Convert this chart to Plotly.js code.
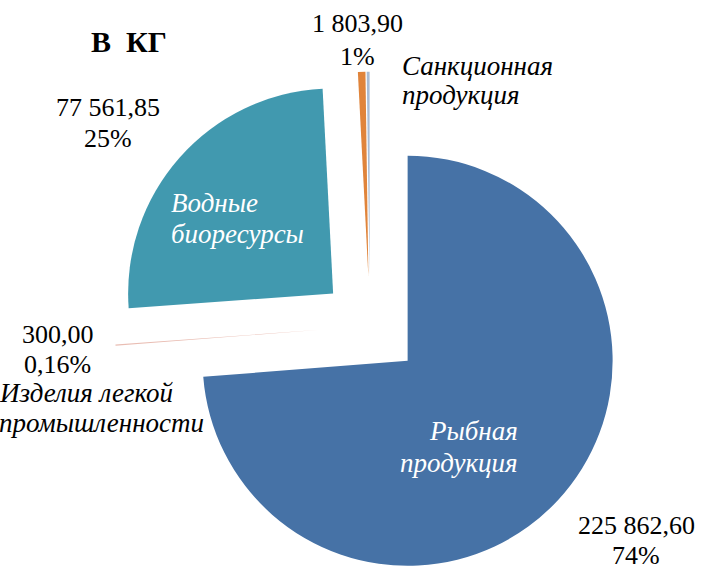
<!DOCTYPE html>
<html>
<head>
<meta charset="utf-8">
<script src="https://cdn.plot.ly/plotly-3.0.1.min.js"></script>
<style>
  html, body { margin: 0; padding: 0; overflow: hidden; background: #fff; }
  #chart { width: 702px; height: 600px; }
</style>
</head>
<body>
<div id="chart"></div>
<script>
// ---- data ----
const categories = ['Рыбная продукция', 'Изделия легкой промышленности', 'Водные биоресурсы', 'Санкционная продукция', 'Прочее'];
const categoryLines = [['Рыбная', 'продукция'], ['Изделия легкой', 'промышленности'], ['Водные', 'биоресурсы'], ['Санкционная', 'продукция'], []];
const values = [225862.60, 300.00, 77561.85, 1803.90, 700];
const percentLabels = ['74%', '0,16%', '25%', '1%', ''];
const colors = ['#4672A6', '#E9BDB3', '#4199AF', '#E0843B', '#A9BCD4'];
const pulls = [0.25, 0.245, 0.24, 0.24, 0.24];
const unitTitle = 'В\u00a0\u00a0КГ';

const SERIF = 'Liberation Serif';

function fmt(v) {
  const parts = v.toFixed(2).split('.');
  return parts[0].replace(/\B(?=(\d{3})+(?!\d))/g, ' ') + ',' + parts[1];
}

const W = 702, H = 600;
const px = x => x / W;
const py = y => 1 - y / H;

// label placement (pixels): x, y of line 1, y of line 2
const valuePos = [[636, 525, 555], [58, 334, 364], [108, 108, 138.5], [357, 23.5, 56], null];
const catPos = [
  {x: 519, y: [431, 462.5], anchor: 'right', color: '#ffffff'},
  {x: -2, y: [393, 423], anchor: 'left', color: '#000000'},
  {x: 170, y: [202.5, 234], anchor: 'left', color: '#ffffff'},
  {x: 401, y: [66, 95], anchor: 'left', color: '#000000'},
  null
];

const annotations = [];
function addLine(text, x, y, anchor, size, color) {
  annotations.push({
    xref: 'paper', yref: 'paper',
    x: px(x), y: py(y),
    xanchor: anchor, yanchor: 'middle', align: anchor,
    showarrow: false, borderpad: 0,
    text: text,
    font: {family: SERIF, size: size, color: color}
  });
}
values.forEach((v, i) => {
  const vp = valuePos[i];
  if (vp) {
    addLine(fmt(v), vp[0], vp[1], 'center', 26, '#000000');
    addLine(percentLabels[i], vp[0], vp[2], 'center', 26, '#000000');
  }
  const cp = catPos[i];
  if (cp) {
    categoryLines[i].forEach((line, k) => {
      addLine('<i>' + line + '</i>', cp.x, cp.y[k], cp.anchor, 27, cp.color);
    });
  }
});

const trace = {
  type: 'pie',
  labels: categories,
  values: values,
  sort: false,
  direction: 'clockwise',
  rotation: 0,
  pull: pulls,
  marker: {colors: colors, line: {width: 0}},
  textinfo: 'none',
  hoverinfo: 'label+value+percent',
  domain: {x: [113.75 / W, 626.25 / W], y: [(H - 582.25) / H, (H - 69.75) / H]}
};

const layout = {
  width: W, height: H,
  margin: {l: 0, r: 0, t: 0, b: 0},
  paper_bgcolor: '#ffffff',
  plot_bgcolor: '#ffffff',
  showlegend: false,
  font: {family: SERIF},
  title: {
    text: '<b>' + unitTitle + '</b>',
    x: px(129), y: 1 - 41 / H, xref: 'container', yref: 'container',
    xanchor: 'center', yanchor: 'middle',
    font: {family: SERIF, size: 30, color: '#000000'}
  },
  annotations: annotations
};

Plotly.newPlot('chart', [trace], layout, {displayModeBar: false, staticPlot: true});
</script>
</body>
</html>
